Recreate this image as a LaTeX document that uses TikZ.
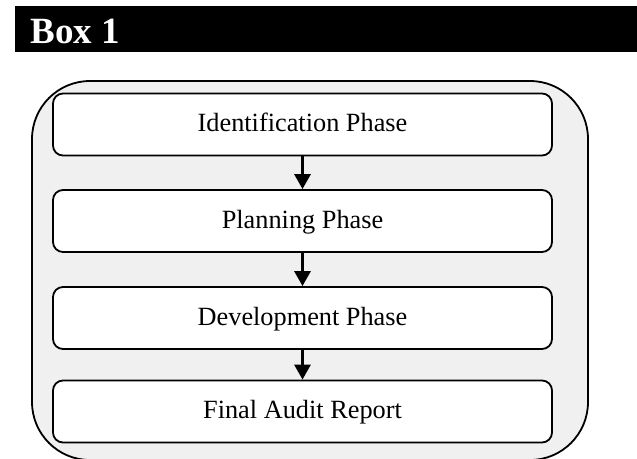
\documentclass[tikz,border=0pt]{standalone}
\usepackage{fontspec}
\setmainfont{Liberation Serif}
\usetikzlibrary{arrows.meta}
\begin{document}
\begin{tikzpicture}[x=1pt,y=-1pt,
  phasebox/.style={draw=black, line width=1.8pt, fill=white, rounded corners=10pt,
    minimum width=499pt, minimum height=62pt, inner sep=0pt,
    font=\fontsize{26.3}{30}\selectfont, text height=19pt, text depth=5pt},
  flow/.style={-{Triangle[length=15pt,width=16pt]}, line width=3pt}]
\useasboundingbox (0,0) rectangle (637,458);
% title bar
\fill[black] (15,6) rectangle (637,52);
\node[anchor=base west, text=white, font=\fontsize{37}{42}\selectfont\bfseries, inner sep=0pt] (title) at (30.5,43.3) {Box 1};
% outer container
\draw[line width=1.8pt, fill=gray!12, rounded corners=58pt] (32,81) rectangle (588,460);
% phases
\node[phasebox] (p1) at (302.5,124.5) {Identification Phase};
\node[phasebox] (p2) at (302.5,221) {Planning Phase};
\node[phasebox] (p3) at (302.5,318) {Development Phase};
\node[phasebox] (p4) at (302.5,411.5) {Final Audit Report};
\draw[flow] (p1) -- (p2);
\draw[flow] (p2) -- (p3);
\draw[flow] (p3) -- (p4);
\end{tikzpicture}
\end{document}
